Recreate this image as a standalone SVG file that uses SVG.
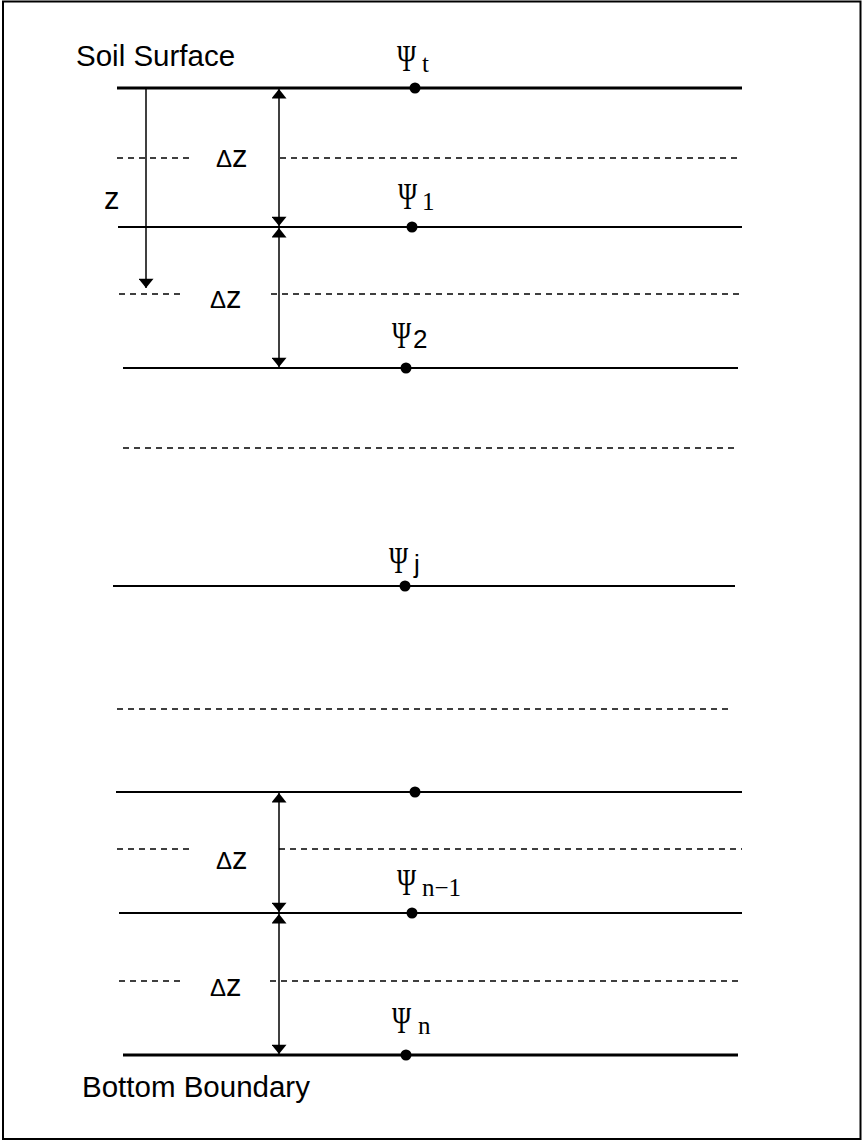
<svg xmlns="http://www.w3.org/2000/svg" width="863" height="1141" viewBox="0 0 863 1141">
<defs>
<marker id="ah" viewBox="0 0 10 16" refX="10" refY="8" markerWidth="10" markerHeight="15" markerUnits="userSpaceOnUse" orient="auto-start-reverse">
<path d="M0,0 L10,8 L0,16 Z" fill="#000"/>
</marker>
<style>
.lbl{font-family:"Liberation Sans",Arial,sans-serif;font-size:29.5px;fill:#000}
.dz{font-family:"Liberation Sans",Arial,sans-serif;font-size:31px;fill:#000}
.psi{font-family:"Liberation Serif","Times New Roman",serif;font-size:37px;fill:#000}
.sub{font-family:"Liberation Serif","Times New Roman",serif;font-size:25px;fill:#000}
.subs{font-family:"Liberation Sans",Arial,sans-serif;font-size:26px;fill:#000}
.solid{stroke:#000;stroke-width:2;fill:none}
.thick{stroke:#000;stroke-width:3;fill:none}
.dash{stroke:#000;stroke-width:1.3;stroke-dasharray:6 5;fill:none}
.arr{stroke:#000;stroke-width:1.5;fill:none}
.dot{fill:#000}
</style>
</defs>
<rect x="3" y="1.5" width="857.5" height="1137.5" fill="#fff" stroke="#000" stroke-width="2"/>

<g id="layers">
<line class="thick" x1="117" y1="88" x2="742" y2="88"/>
<line class="dash" x1="117" y1="158" x2="190" y2="158"/>
<line class="dash" x1="280" y1="158" x2="742" y2="158"/>
<line class="solid" x1="118" y1="227" x2="742" y2="227"/>
<line class="dash" x1="119" y1="294" x2="182" y2="294"/>
<line class="dash" x1="271" y1="294" x2="742" y2="294"/>
<line class="solid" x1="123" y1="368" x2="738" y2="368"/>
<line class="dash" x1="123" y1="448" x2="738" y2="448"/>
<line class="solid" x1="113" y1="586" x2="735" y2="586"/>
<line class="dash" x1="117" y1="709" x2="733" y2="709"/>
<line class="solid" x1="116" y1="792" x2="742" y2="792"/>
<line class="dash" x1="117" y1="849" x2="190" y2="849"/>
<line class="dash" x1="279" y1="849" x2="742" y2="849"/>
<line class="solid" x1="119" y1="913" x2="742" y2="913"/>
<line class="dash" x1="119" y1="981" x2="182" y2="981"/>
<line class="dash" x1="270" y1="981" x2="742" y2="981"/>
<line class="thick" x1="123" y1="1055" x2="738" y2="1055"/>
</g>

<g id="nodes">
<g id="node-t"><circle class="dot" cx="415" cy="88" r="5.5"/><text class="psi" transform="translate(397,71) scale(0.7,1)">Ψ</text><text class="sub" x="422" y="72">t</text></g>
<g id="node-1"><circle class="dot" cx="412" cy="227" r="5.5"/><text class="psi" transform="translate(398,209) scale(0.7,1)">Ψ</text><text class="sub" x="422" y="210">1</text></g>
<g id="node-2"><circle class="dot" cx="406" cy="368" r="5.5"/><text class="psi" transform="translate(392,348) scale(0.7,1)">Ψ</text><text class="subs" x="413" y="348">2</text></g>
<g id="node-j"><circle class="dot" cx="405" cy="586" r="5.5"/><text class="psi" transform="translate(389,573) scale(0.7,1)">Ψ</text><text class="subs" x="414" y="573">j</text></g>
<g id="node-n2"><circle class="dot" cx="415" cy="792" r="5.5"/></g>
<g id="node-n1"><circle class="dot" cx="412" cy="913" r="5.5"/><text class="psi" transform="translate(397,895) scale(0.7,1)">Ψ</text><text class="sub" x="422" y="896">n−1</text></g>
<g id="node-n"><circle class="dot" cx="406" cy="1055" r="5.5"/><text class="psi" transform="translate(392,1033) scale(0.7,1)">Ψ</text><text class="sub" x="418" y="1034">n</text></g>
</g>

<g id="connectors">
<line class="arr" x1="146" y1="88" x2="146" y2="288" marker-end="url(#ah)"/>
<line class="arr" x1="279" y1="89" x2="279" y2="226" marker-start="url(#ah)" marker-end="url(#ah)"/>
<line class="arr" x1="279" y1="228" x2="279" y2="367" marker-start="url(#ah)" marker-end="url(#ah)"/>
<line class="arr" x1="279" y1="793" x2="279" y2="912" marker-start="url(#ah)" marker-end="url(#ah)"/>
<line class="arr" x1="279" y1="914" x2="279" y2="1054" marker-start="url(#ah)" marker-end="url(#ah)"/>
</g>

<g id="labels">
<text class="lbl" x="76" y="66">Soil Surface</text>
<text class="lbl" x="82" y="1097">Bottom Boundary</text>
<text class="dz" x="104" y="209">z</text>
<text class="dz" x="216" y="167"><tspan style="font-size:24px">Δ</tspan>z</text>
<text class="dz" x="210" y="308"><tspan style="font-size:24px">Δ</tspan>z</text>
<text class="dz" x="216" y="869"><tspan style="font-size:24px">Δ</tspan>z</text>
<text class="dz" x="210" y="996"><tspan style="font-size:24px">Δ</tspan>z</text>
</g>
</svg>
